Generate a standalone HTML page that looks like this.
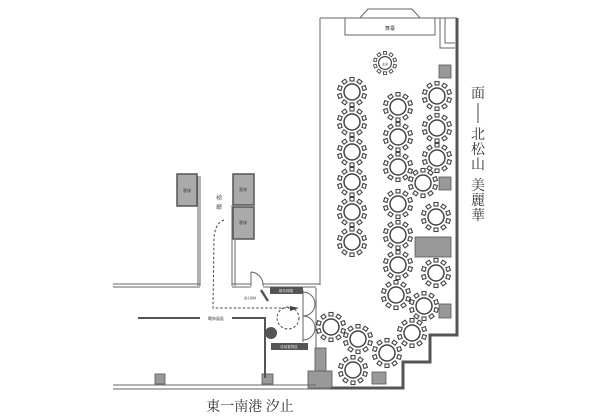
<!DOCTYPE html>
<html><head><meta charset="utf-8"><style>
html,body{margin:0;padding:0;background:#fff;}
svg{display:block;}
text{font-family:"Liberation Serif","Noto Serif CJK SC",serif;fill:#333;}
.s{font-family:"Liberation Sans","Noto Sans CJK SC",sans-serif;font-size:4px;fill:#444;}
</style></head><body>
<svg width="600" height="420" viewBox="0 0 600 420" xmlns="http://www.w3.org/2000/svg">
<defs>
<g id="t">
<circle r="8" fill="#fff" stroke="#444" stroke-width="1.5"/>
<g fill="#fff" stroke="#444" stroke-width="1.1">
<rect x="-2" y="-14.5" width="4" height="3.5" transform="rotate(0)"/>
<rect x="-2" y="-14.5" width="4" height="3.5" transform="rotate(36)"/>
<rect x="-2" y="-14.5" width="4" height="3.5" transform="rotate(72)"/>
<rect x="-2" y="-14.5" width="4" height="3.5" transform="rotate(108)"/>
<rect x="-2" y="-14.5" width="4" height="3.5" transform="rotate(144)"/>
<rect x="-2" y="-14.5" width="4" height="3.5" transform="rotate(180)"/>
<rect x="-2" y="-14.5" width="4" height="3.5" transform="rotate(216)"/>
<rect x="-2" y="-14.5" width="4" height="3.5" transform="rotate(252)"/>
<rect x="-2" y="-14.5" width="4" height="3.5" transform="rotate(288)"/>
<rect x="-2" y="-14.5" width="4" height="3.5" transform="rotate(324)"/>
</g>
</g>
</defs>
<!-- main hall -->
<g fill="none" stroke="#666" stroke-width="1">
<line x1="320" y1="18" x2="320" y2="285"/>
<line x1="320" y1="18" x2="457" y2="18"/>
<polyline points="345,35 345,18"/>
<rect x="345" y="18" width="90" height="17" fill="#fff"/>
<polyline points="360,18 368,9 412,9 420,18"/>
<polyline points="440,18 440,48 455,48"/>
<polyline points="445,18 445,43 455,43"/>
<line x1="316" y1="288" x2="316" y2="388"/>
</g>
<text x="390" y="30" class="s" text-anchor="middle" style="font-size:5px">舞臺</text>
<polyline points="457,18 457,335 430,335 430,362 403,362 403,388 330,388" fill="none" stroke="#555" stroke-width="3"/>
<!-- tables -->
<g transform="translate(385,63) scale(0.8)"><use href="#t"/></g>
<text x="385" y="65" class="s" text-anchor="middle" style="font-size:3px">主桌</text>
<use href="#t" x="352" y="92"/><use href="#t" x="352" y="122"/><use href="#t" x="352" y="152"/>
<use href="#t" x="352" y="182"/><use href="#t" x="352" y="212"/><use href="#t" x="352" y="242"/>
<use href="#t" x="398" y="107"/><use href="#t" x="398" y="137"/><use href="#t" x="398" y="167"/>
<use href="#t" x="398" y="204"/><use href="#t" x="398" y="235"/><use href="#t" x="398" y="265"/><use href="#t" x="396" y="295"/>
<use href="#t" x="437" y="96"/><use href="#t" x="437" y="128"/><use href="#t" x="437" y="158"/>
<use href="#t" x="423" y="183"/><use href="#t" x="436" y="217"/><use href="#t" x="436" y="273"/>
<use href="#t" x="424" y="306"/><use href="#t" x="412" y="333"/><use href="#t" x="331" y="327"/>
<use href="#t" x="358" y="339"/><use href="#t" x="387" y="353"/><use href="#t" x="353" y="370"/>
<!-- gray boxes -->
<g fill="#999" stroke="#555" stroke-width="0.8">
<rect x="439" y="65" width="12" height="13"/>
<rect x="439" y="177" width="12" height="13"/>
<rect x="415" y="237" width="36" height="20"/>
<rect x="439" y="304" width="12" height="14"/>
<rect x="372" y="372" width="14" height="12"/>
<rect x="315" y="348" width="11" height="24"/>
<rect x="308" y="371" width="24" height="17"/>
<rect x="155" y="374" width="10" height="10"/>
<rect x="262" y="374" width="11" height="10"/>
</g>
<!-- left corridor -->
<g fill="#aaa" stroke="#555" stroke-width="1.5">
<rect x="177" y="174" width="20" height="32"/>
<rect x="233" y="174" width="21" height="31"/>
<rect x="233" y="207" width="21" height="32"/>
</g>
<text x="187" y="192" class="s" text-anchor="middle">客梯</text>
<text x="243" y="191" class="s" text-anchor="middle">客梯</text>
<text x="243" y="224" class="s" text-anchor="middle">客梯</text>
<g fill="none" stroke="#666" stroke-width="1">
<line x1="198" y1="176" x2="198" y2="286"/><line x1="200" y1="176" x2="200" y2="286"/>
<line x1="113" y1="284" x2="200" y2="284"/><line x1="113" y1="287" x2="200" y2="287"/>
<line x1="232" y1="205" x2="232" y2="286"/><line x1="235" y1="240" x2="235" y2="286"/>
<line x1="232" y1="284" x2="251" y2="284"/><line x1="232" y1="287" x2="251" y2="287"/>
<line x1="251" y1="286" x2="251" y2="272"/><path d="M251,272 A13,13 0 0 1 263,286"/>
<line x1="263" y1="284" x2="320" y2="284"/><line x1="263" y1="287" x2="316" y2="287"/>
<line x1="113" y1="385" x2="316" y2="385"/><line x1="113" y1="389" x2="330" y2="389"/>
<path d="M303,292 A12,12 0 0 1 315,304 M303,316 A12,12 0 0 0 315,304 M303,316 A12,12 0 0 1 315,328 M303,340 A12,12 0 0 0 315,328" />
<line x1="303" y1="290" x2="303" y2="342"/>
</g>
<text x="216" y="200" style="font-size:6px">梯</text>
<text x="216" y="209" style="font-size:6px">廳</text>
<line x1="138" y1="318" x2="200" y2="318" stroke="#555" stroke-width="2"/>
<line x1="232" y1="318" x2="266" y2="318" stroke="#555" stroke-width="2"/>
<line x1="265" y1="318" x2="265" y2="378" stroke="#555" stroke-width="2"/>
<text x="216" y="320" class="s" text-anchor="middle">戰佈展區</text>
<path d="M224,220 Q214,224 214,240 L213,308 L298,308" fill="none" stroke="#444" stroke-width="1" stroke-dasharray="2.5,2"/>
<path d="M290,306 L299,308 L290,311" fill="#444"/>
<circle cx="288" cy="318" r="11" fill="none" stroke="#444" stroke-width="1" stroke-dasharray="2.5,2"/>
<rect x="270" y="287" width="33" height="7" fill="#555"/>
<text x="286" y="292" class="s" text-anchor="middle" style="fill:#ddd;font-size:3.5px">散布梯箱</text>
<line x1="261" y1="290" x2="268" y2="301" stroke="#555" stroke-width="2.5"/>
<text x="250" y="299" class="s" text-anchor="middle" style="font-size:3px">電子控制</text>
<circle cx="271" cy="333" r="6" fill="#555"/>
<rect x="271" y="343" width="37" height="7" fill="#555"/>
<text x="289" y="348" class="s" text-anchor="middle" style="fill:#ddd;font-size:3.5px">收納置物區</text>
<text x="250" y="411" text-anchor="middle" style="font-size:14px">東一南港 汐止</text>
<g style="font-size:14px" text-anchor="middle">
<text x="478" y="98">面</text>
<line x1="478" y1="103" x2="478" y2="123" stroke="#444" stroke-width="1"/>
<text x="478" y="139">北</text><text x="478" y="154">松</text><text x="478" y="169">山</text>
<text x="478" y="190">美</text><text x="478" y="205">麗</text><text x="478" y="220">華</text>
</g>
</svg>
</body></html>
